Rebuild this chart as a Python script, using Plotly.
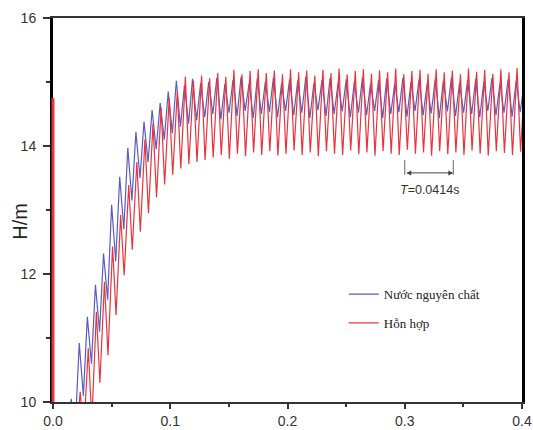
import plotly.graph_objects as go

# ---- data ----
cycle_period = 0.0069          # s  (T = 0.0414 s spans 6 cycles)
first_peak_t = 0.0155          # s  time of first blue peak

blue_peaks = [10.05, 10.92, 11.33, 11.83, 12.32, 13.08, 13.52, 13.97, 14.22, 14.38,
              14.56, 14.67, 14.85, 15.02, 14.95, 15.05, 14.98, 15.00, 15.06, 14.97,
              15.03, 15.08, 14.98, 15.05, 15.00, 15.07, 14.97, 15.04, 15.02, 15.08,
              14.98, 15.03, 15.06, 14.99, 15.04, 15.00, 15.07, 14.97, 15.03, 15.05,
              14.98, 15.06, 15.00, 15.04, 14.97, 15.05, 15.02, 15.07, 14.98, 15.03,
              15.05, 15.00, 15.06, 14.98, 15.04, 15.02, 15.00]
blue_troughs = [9.60, 10.10, 10.60, 11.10, 11.60, 12.20, 12.70, 13.15, 13.50, 13.75,
                13.95, 14.10, 14.20, 14.30, 14.35, 14.40, 14.45, 14.50, 14.42, 14.52,
                14.47, 14.55, 14.44, 14.50, 14.53, 14.45, 14.55, 14.48, 14.52, 14.44,
                14.56, 14.47, 14.50, 14.54, 14.45, 14.52, 14.48, 14.55, 14.44, 14.50,
                14.53, 14.46, 14.55, 14.48, 14.51, 14.44, 14.54, 14.47, 14.52, 14.50,
                14.45, 14.55, 14.48, 14.52, 14.46, 14.53, 14.50]
red_peaks = [9.60, 10.16, 10.84, 11.41, 11.88, 12.43, 12.92, 13.39, 13.75, 14.10,
             14.35, 14.60, 14.75, 14.85, 15.08, 15.02, 15.10, 15.06, 15.14, 15.08,
             15.19, 15.12, 15.17, 15.20, 15.14, 15.18, 15.12, 15.20, 15.15, 15.18,
             15.10, 15.19, 15.14, 15.21, 15.12, 15.17, 15.20, 15.13, 15.18, 15.15,
             15.21, 15.12, 15.17, 15.19, 15.13, 15.20, 15.15, 15.18, 15.12, 15.21,
             15.16, 15.19, 15.13, 15.20, 15.15, 15.22, 15.17]
red_troughs = [9.30, 9.50, 9.70, 10.30, 10.73, 11.36, 11.98, 12.38, 12.66, 12.95,
               13.20, 13.40, 13.55, 13.65, 13.72, 13.75, 13.78, 13.82, 13.86, 13.80,
               13.88, 13.84, 13.90, 13.86, 13.92, 13.85, 13.88, 13.93, 13.86, 13.90,
               13.84, 13.92, 13.88, 13.86, 13.93, 13.87, 13.90, 13.85, 13.92, 13.88,
               13.86, 13.94, 13.88, 13.90, 13.85, 13.92, 13.87, 13.90, 13.86, 13.93,
               13.88, 13.85, 13.92, 13.89, 13.86, 13.91, 13.88]
red_start_t = [0.0, 0.0]
red_start_h = [14.77, 10.0]

x_ticks = [0.0, 0.1, 0.2, 0.3, 0.4]
x_ticklabels = ["0.0", "0.1", "0.2", "0.3", "0.4"]
y_ticks = [10, 12, 14, 16]
y_title = "H/m"

period_label = "<i>T</i>=0.0414s"
period_start = 0.300
period_len = 0.0414

# ---- build traces ----
blue_trough_offset = 0.0035
red_peak_offset = 0.0008
red_trough_offset = 0.0038

bx, by = [0.0, first_peak_t - 0.004], [9.0, 9.0]
for k, (p, q) in enumerate(zip(blue_peaks, blue_troughs)):
    t = first_peak_t + k * cycle_period
    bx += [t, t + blue_trough_offset]
    by += [p, q]

rx, ry = [red_start_t[-1]], [9.0]
rx.append(first_peak_t - 0.003); ry.append(9.0)
for k, (p, q) in enumerate(zip(red_peaks, red_troughs)):
    t = first_peak_t + k * cycle_period
    rx += [t + red_peak_offset, t + red_trough_offset]
    ry += [p, q]

blue_c = "#5a5cc0"
red_c = "#e8343f"

fig = go.Figure()
fig.add_trace(go.Scatter(x=bx, y=by, mode="lines", name="Nước nguyên chất",
                         line=dict(color=blue_c, width=1.2), legendgroup="a"))
fig.add_trace(go.Scatter(x=rx, y=ry, mode="lines", name="Hỗn hợp",
                         line=dict(color=red_c, width=1.2), legendgroup="b"))

# initial vertical red segment at t = 0 (drawn unclipped over the axis line)
fig.add_annotation(x=red_start_t[1], y=red_start_h[1], ax=red_start_t[0], ay=red_start_h[0],
                   xref="x", yref="y", axref="x", ayref="y", text="", showarrow=True,
                   arrowhead=0, arrowwidth=3, arrowcolor=red_c, standoff=0, startstandoff=0)

# y-axis title
fig.add_annotation(x=-0.072, y=0.47, xref="paper", yref="paper", text=y_title,
                   textangle=-90, showarrow=False, xanchor="center", yanchor="middle",
                   font=dict(family="Liberation Sans, Arial", size=20, color="#222"))

# period marker
y_bar_top, y_bar_bot, y_arrow, y_text = 13.78, 13.55, 13.58, 13.32
for xv in (period_start, period_start + period_len):
    fig.add_shape(type="line", x0=xv, x1=xv, y0=y_bar_bot, y1=y_bar_top,
                  line=dict(color="#666", width=1), xref="x", yref="y")
fig.add_annotation(x=period_start + period_len, y=y_arrow, ax=period_start, ay=y_arrow,
                   xref="x", yref="y", axref="x", ayref="y", text="", showarrow=True,
                   arrowhead=2, arrowside="end+start", arrowsize=1, arrowwidth=1,
                   arrowcolor="#444")
fig.add_annotation(x=period_start + period_len / 2, y=y_text, xref="x", yref="y",
                   text=period_label, showarrow=False,
                   font=dict(family="Liberation Sans, Arial", size=12.5, color="#333"))

axis_font = dict(family="Liberation Sans, Arial", size=14, color="#333")
fig.update_layout(
    width=533, height=430,
    margin=dict(l=53, r=11, t=18, b=28),
    paper_bgcolor="white", plot_bgcolor="white",
    showlegend=True,
    legend=dict(x=0.62, y=0.32, xanchor="left", yanchor="top",
                bgcolor="rgba(0,0,0,0)", traceorder="grouped", tracegroupgap=9,
                font=dict(family="Liberation Serif, Times New Roman", size=13, color="#222")),
    xaxis=dict(range=[0, 0.4], tickvals=x_ticks, ticktext=x_ticklabels,
               showgrid=False, zeroline=False, showline=True, linecolor="#333",
               linewidth=2, mirror=True, ticks="outside", ticklen=5, tickwidth=1.5,
               tickcolor="#333", tickfont=axis_font, layer="above traces",
               automargin=False,
               minor=dict(dtick=0.05, ticks="outside", ticklen=3, tickcolor="#333",
                          showgrid=False)),
    yaxis=dict(range=[10, 16], tickvals=y_ticks, showgrid=False, zeroline=False,
               showline=True, linecolor="#000", linewidth=3, mirror=True,
               ticks="outside", ticklen=7, tickwidth=1.5, tickcolor="#333",
               tickfont=axis_font, layer="above traces", automargin=False,
               ticklabelstandoff=4,
               minor=dict(dtick=1, ticks="outside", ticklen=4, tickcolor="#333",
                          showgrid=False)),
)

fig.write_html("out.html")
